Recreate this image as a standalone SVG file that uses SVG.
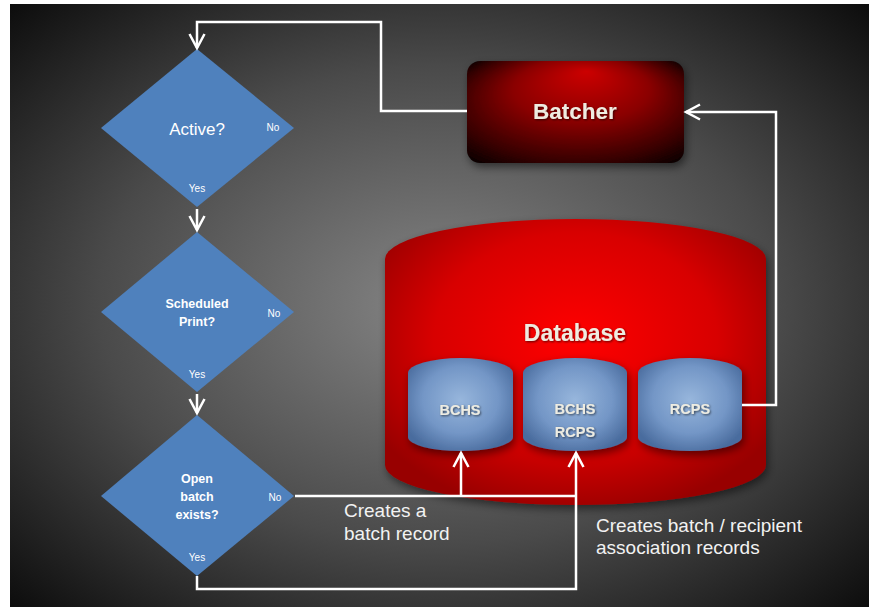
<svg xmlns="http://www.w3.org/2000/svg" width="869" height="607" viewBox="0 0 869 607">
<defs>
<radialGradient id="bg" cx="0.5" cy="0.5" r="0.72">
<stop offset="0" stop-color="#858585"/>
<stop offset="0.55" stop-color="#4a4a4a"/>
<stop offset="1" stop-color="#0a0a0a"/>
</radialGradient>
<radialGradient id="batcherG" cx="0.5" cy="0.5" r="0.7" fx="0.55" fy="0.1">
<stop offset="0" stop-color="#cc0000"/>
<stop offset="0.45" stop-color="#8a0000"/>
<stop offset="0.8" stop-color="#380000"/>
<stop offset="1" stop-color="#050000"/>
</radialGradient>
<radialGradient id="dbG" cx="0.5" cy="0.42" r="0.62">
<stop offset="0" stop-color="#ff0000"/>
<stop offset="0.6" stop-color="#d80000"/>
<stop offset="1" stop-color="#980000"/>
</radialGradient>
<radialGradient id="cylG" cx="0.5" cy="0.45" r="0.6">
<stop offset="0" stop-color="#97b6dc"/>
<stop offset="0.6" stop-color="#7396c6"/>
<stop offset="1" stop-color="#4a6c9e"/>
</radialGradient>
<filter id="shadow" x="-10%" y="-10%" width="130%" height="140%">
<feDropShadow dx="2" dy="4" stdDeviation="4" flood-color="#000" flood-opacity="0.5"/>
</filter>
<filter id="tshadow" x="-10%" y="-20%" width="130%" height="150%">
<feDropShadow dx="1" dy="1" stdDeviation="1" flood-color="#000" flood-opacity="0.6"/>
</filter>
<marker id="arr" markerUnits="userSpaceOnUse" markerWidth="20" markerHeight="20" viewBox="-16 -10 18 20" refX="0" refY="0" orient="auto">
<path d="M-14,-7.5 L0,0 L-14,7.5" fill="none" stroke="#ffffff" stroke-width="2.5"/>
</marker>
<style>
.diamond{fill:#4f81bd}
.q{font-family:"Liberation Sans",Arial,sans-serif;fill:#ffffff;text-anchor:middle}
.qb{font-family:"Liberation Sans",Arial,sans-serif;fill:#ffffff;text-anchor:middle;font-weight:bold;font-size:12.5px}
.yn{font-family:"Liberation Sans",Arial,sans-serif;fill:#ffffff;text-anchor:middle;font-size:10px}
.big{font-family:"Liberation Sans",Arial,sans-serif;fill:#eeece1;text-anchor:middle;font-weight:bold}
.cyl{fill:url(#cylG)}
.note{font-family:"Liberation Sans",Arial,sans-serif;fill:#f2f2f2;font-size:19px}
.conn{fill:none;stroke:#ffffff;stroke-width:2.5}
</style>
</defs>
<rect x="0" y="0" width="869" height="607" fill="#ffffff"/>
<rect x="10" y="4" width="859" height="603" fill="url(#bg)"/>

<g id="active">
<polygon class="diamond" points="197,49 294,128 197,207 101,128"/>
<text class="q" x="197" y="135" font-size="17">Active?</text>
<text class="yn" x="273" y="131">No</text>
<text class="yn" x="197" y="192">Yes</text>
</g>

<g id="scheduled">
<polygon class="diamond" points="197,232 294,312 197,392 101,312"/>
<text class="qb" x="197" y="308">Scheduled</text>
<text class="qb" x="197" y="326">Print?</text>
<text class="yn" x="274" y="317">No</text>
<text class="yn" x="197" y="378">Yes</text>
</g>

<g id="openbatch">
<polygon class="diamond" points="197,415 294,496 197,576 101,496"/>
<text class="qb" x="197" y="483">Open</text>
<text class="qb" x="197" y="501">batch</text>
<text class="qb" x="197" y="519">exists?</text>
<text class="yn" x="275" y="501">No</text>
<text class="yn" x="197" y="561">Yes</text>
</g>

<g id="batcher">
<rect x="467" y="61" width="217" height="102" rx="13" fill="url(#batcherG)" filter="url(#shadow)"/>
<text class="big" x="575" y="119" font-size="22.5" filter="url(#tshadow)">Batcher</text>
</g>

<g id="database">
<path d="M385,259 A190.5,40 0 0 1 766,259 V465 A190.5,40 0 0 1 385,465 Z" fill="url(#dbG)" filter="url(#shadow)"/>
<text class="big" x="575" y="341" font-size="23" filter="url(#tshadow)">Database</text>
</g>

<g id="bchs">
<path class="cyl" d="M408,373 A52.5,15 0 0 1 513,373 V437 A52.5,14 0 0 1 408,437 Z" filter="url(#shadow)"/>
<text class="big" x="460" y="415" font-size="14.5" filter="url(#tshadow)">BCHS</text>
</g>

<g id="bchsrcps">
<path class="cyl" d="M523,373 A52,15 0 0 1 627,373 V437 A52,14 0 0 1 523,437 Z" filter="url(#shadow)"/>
<text class="big" x="575" y="414" font-size="14.5" filter="url(#tshadow)">BCHS</text>
<text class="big" x="575" y="437" font-size="14.5" filter="url(#tshadow)">RCPS</text>
</g>

<g id="rcps">
<path class="cyl" d="M638,373 A52,15 0 0 1 742,373 V437 A52,14 0 0 1 638,437 Z" filter="url(#shadow)"/>
<text class="big" x="690" y="414" font-size="14.5" filter="url(#tshadow)">RCPS</text>
</g>

<g id="connectors">
<path class="conn" d="M467,111 H381 V22 H197 V48" marker-end="url(#arr)"/>
<path class="conn" d="M197,209 V230" marker-end="url(#arr)"/>
<path class="conn" d="M197,394 V413" marker-end="url(#arr)"/>
<path class="conn" d="M295,496 H576"/>
<path class="conn" d="M461,496 V453" marker-end="url(#arr)"/>
<path class="conn" d="M197,576 V589 H576 V453" marker-end="url(#arr)"/>
<path class="conn" d="M742,405 H776 V112 H686" marker-end="url(#arr)"/>
</g>

<g id="labels">
<text class="note" x="344" y="517">Creates a</text>
<text class="note" x="344" y="540">batch record</text>
<text class="note" x="596" y="532">Creates batch / recipient</text>
<text class="note" x="596" y="554">association records</text>
</g>
</svg>
